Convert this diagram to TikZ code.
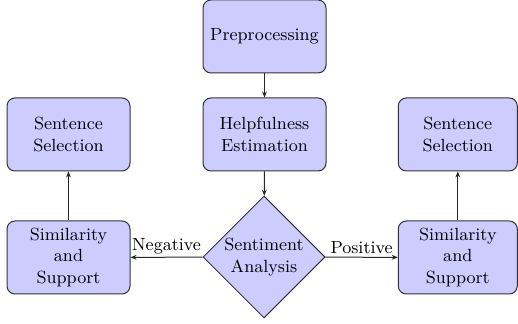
\documentclass[tikz,border=0pt]{standalone}
\usetikzlibrary{shapes.geometric,arrows.meta}
\begin{document}
\begin{tikzpicture}[x=0.5pt,y=-0.5pt,
  txt/.style={font=\fontsize{8.8}{10.8}\selectfont, align=center},
  box/.style={txt, draw=black!80, line width=0.5pt, fill=blue!20, rounded corners=4pt,
    minimum width=61.5pt, minimum height=36.5pt, inner sep=1pt},
  boxr/.style={box, minimum width=59.5pt},
  dia/.style={txt, shape=diamond, draw=black!80, line width=0.5pt, fill=blue!20,
    minimum width=61pt, minimum height=61pt, inner sep=0pt},
  conn/.style={draw=black!85, line width=0.5pt, -{Stealth[length=3pt,width=2.4pt]}},
  lbl/.style={txt, inner sep=1.5pt}
]
\useasboundingbox (0,0) rectangle (518,324);
\node[box] (pre) at (264.5,36.5) {Preprocessing};
\node[box] (help) at (264.5,134.5) {Helpfulness\\Estimation};
\node[dia] (sent) at (264,257) {Sentiment\\Analysis};
\node[box] (simL) at (68.5,257.5) {Similarity\\and\\Support};
\node[box] (selL) at (68.5,134.5) {Sentence\\Selection};
\node[boxr] (simR) at (457.8,257.5) {Similarity\\and\\Support};
\node[boxr] (selR) at (457.8,134.5) {Sentence\\Selection};
\draw[conn] (pre) -- (help);
\draw[conn] (help) -- (sent);
\draw[conn] (sent) -- node[lbl, above] {Negative} (simL);
\draw[conn] (sent) -- node[lbl, above] {Positive} (simR);
\draw[conn] (simL) -- (selL);
\draw[conn] (simR) -- (selR);
\end{tikzpicture}
\end{document}
